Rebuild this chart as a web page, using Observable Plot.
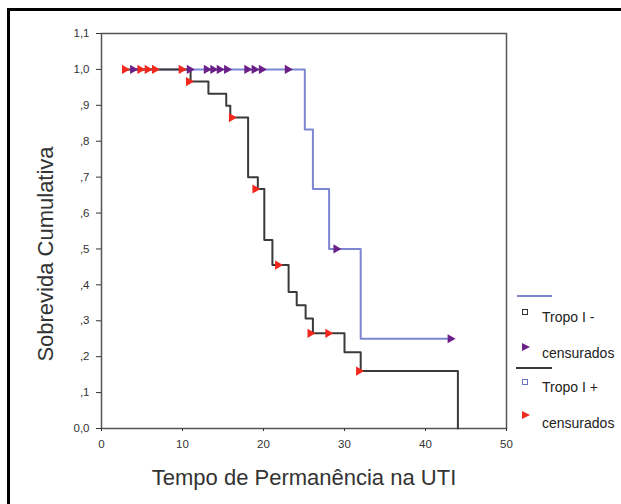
<!DOCTYPE html>
<html>
<head>
<meta charset="utf-8">
<script src="https://cdn.jsdelivr.net/npm/d3@7"></script>
<script src="https://cdn.jsdelivr.net/npm/@observablehq/plot@0.6"></script>
<style>
  html, body { margin: 0; padding: 0; background: #fff; }
  #wrap { position: relative; width: 621px; height: 504px; overflow: hidden; font-family: "Liberation Sans", Arial, sans-serif; }
  #border { position: absolute; left: 7px; top: 8px; width: 700px; height: 600px; border-left: 3px solid #000; border-top: 3px solid #000; }
  #chart { position: absolute; left: 0; top: 0; }
  .leg { position: absolute; font-size: 14px; color: #222; white-space: nowrap; line-height: 1; }
  .legline { position: absolute; height: 2px; }
  .sq { position: absolute; width: 4px; height: 4px; border: 1px solid; }
  .tri { position: absolute; width: 0; height: 0; border-top: 4.5px solid transparent; border-bottom: 4.5px solid transparent; }
</style>
</head>
<body>
<div id="wrap">
  <div id="border"></div>
  <div id="chart"></div>
  <div class="legline" style="left:517px; top:295px; width:35px; background:#7e86d2;"></div>
  <div class="sq" style="left:522px; top:309px; border-color:#333;"></div>
  <div class="leg" style="left:542px; top:310px;">Tropo I -</div>
  <div class="tri" style="left:522px; top:343px; border-left:8px solid #6b1f88;"></div>
  <div class="leg" style="left:542px; top:346px;">censurados</div>
  <div class="legline" style="left:516px; top:367px; width:36px; background:#3a3a3a;"></div>
  <div class="sq" style="left:522px; top:379px; border-color:#6a72c8;"></div>
  <div class="leg" style="left:542px; top:380px;">Tropo I +</div>
  <div class="tri" style="left:522px; top:411px; border-left:8px solid #f0281e;"></div>
  <div class="leg" style="left:542px; top:416px;">censurados</div>
</div>
<script>
// Tropo I - (blue curve)
const blueTimes = [4, 25.1, 26.1, 28.1, 32, 43.2];
const blueSurv  = [1.0, 0.833, 0.667, 0.5, 0.25, 0.25];
const blueCensT = [4, 11, 13.1, 13.9, 14.7, 15.6, 18.1, 19, 19.9, 23.1, 29.1, 43.2];
const blueCensS = [1, 1, 1, 1, 1, 1, 1, 1, 1, 1, 0.5, 0.25];

// Tropo I + (black curve)
const blackTimes = [3, 11.0, 13.2, 15.4, 15.9, 18.1, 19.3, 20.1, 21.1, 23.1, 24.1, 25.2, 26.1, 30, 32, 44];
const blackSurv  = [1.0, 0.966, 0.932, 0.899, 0.866, 0.70, 0.667, 0.525, 0.455, 0.38, 0.343, 0.306, 0.265, 0.212, 0.16, 0.0];
const redCensT = [3, 4.9, 5.8, 6.7, 10, 10.9, 16.2, 19.1, 21.9, 25.9, 28.1, 31.9];
const redCensS = [1, 1, 1, 1, 1, 0.966, 0.866, 0.667, 0.455, 0.265, 0.265, 0.16];

const xTicks = [0, 10, 20, 30, 40, 50];
const yTicks = [0, 0.1, 0.2, 0.3, 0.4, 0.5, 0.6, 0.7, 0.8, 0.9, 1.0, 1.1];
const yTickLabels = ["0,0", ",1", ",2", ",3", ",4", ",5", ",6", ",7", ",8", ",9", "1,0", "1,1"];
const xTitle = "Tempo de Permanência na UTI";
const yTitle = "Sobrevida Cumulativa";

const blue = blueTimes.map((t, i) => ({t, s: blueSurv[i]}));
const black = blackTimes.map((t, i) => ({t, s: blackSurv[i]}));
const blueC = blueCensT.map((t, i) => ({t, s: blueCensS[i]}));
const redC = redCensT.map((t, i) => ({t, s: redCensS[i]}));

const triRight = {
  draw(context, size) {
    const h = Math.sqrt(size / Math.PI);
    context.moveTo(h * 1.05, 0);
    context.lineTo(-h * 0.95, -h * 1.15);
    context.lineTo(-h * 0.95, h * 1.15);
    context.closePath();
  }
};

const chart = Plot.plot({
  width: 621,
  height: 504,
  marginLeft: 101,
  marginRight: 115,
  marginTop: 33,
  marginBottom: 76,
  style: { fontFamily: "Liberation Sans, Arial, sans-serif", fontSize: "11px", color: "#333", background: "transparent" },
  x: { domain: [0, 50] },
  y: { domain: [0, 1.1] },
  marks: [
    Plot.frame({ stroke: "#555", strokeWidth: 1.5 }),
    Plot.axisX({ ticks: xTicks, tickSize: 3, tickPadding: 8, label: null, fontSize: 11.5 }),
    Plot.axisY({ ticks: yTicks, tickSize: 5, tickPadding: 7, label: null, fontSize: 11.5,
                 tickFormat: d => yTickLabels[yTicks.findIndex(v => Math.abs(v - d) < 1e-9)] }),
    Plot.line(blue, { x: "t", y: "s", curve: "step-after", stroke: "#7e86d2", strokeWidth: 2 }),
    Plot.line(black, { x: "t", y: "s", curve: "step-after", stroke: "#3a3a3a", strokeWidth: 2 }),
    Plot.dot(redC, { x: "t", y: "s", symbol: triRight, r: 4, fill: "#f0281e", stroke: "none" }),
    Plot.dot(blueC, { x: "t", y: "s", symbol: triRight, r: 4, fill: "#6b1f88", stroke: "none" }),
    Plot.text([xTitle], { frameAnchor: "bottom", dy: 49, fontSize: 22, fill: "#333", lineAnchor: "middle", textAnchor: "middle" }),
    Plot.text([yTitle], { frameAnchor: "left", dx: -56, dy: 23, rotate: -90, fontSize: 22, fill: "#333", lineAnchor: "middle", textAnchor: "middle" })
  ]
});
document.getElementById("chart").appendChild(chart);
</script>
</body>
</html>
